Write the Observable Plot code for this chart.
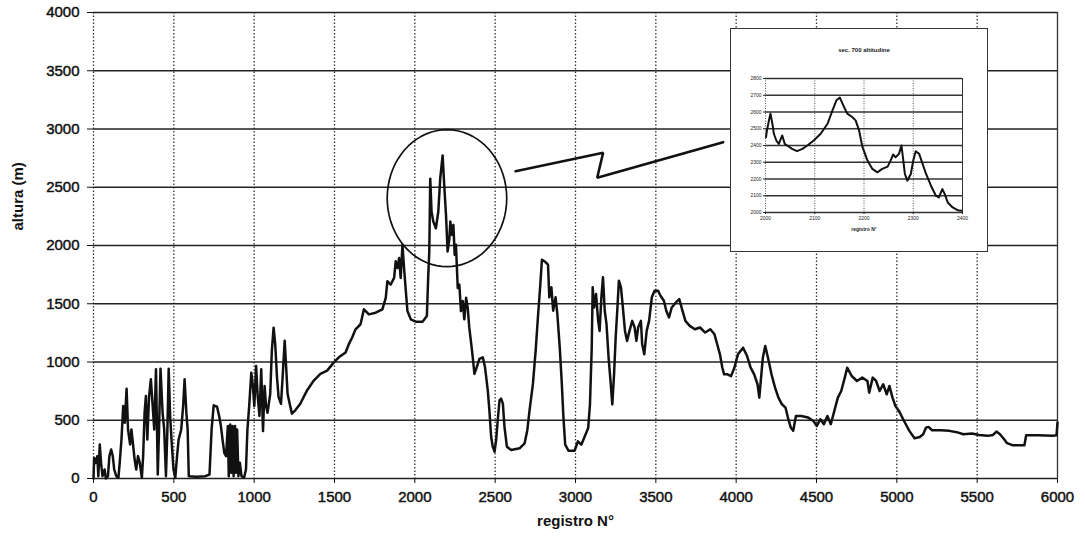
<!DOCTYPE html>
<html><head><meta charset="utf-8">
<script src="https://cdn.jsdelivr.net/npm/d3@7"></script>
<script src="https://cdn.jsdelivr.net/npm/@observablehq/plot@0.6"></script>
<style>
html,body{margin:0;padding:0;background:#fff;overflow:hidden;}
#wrap{position:relative;width:1085px;height:545px;overflow:hidden;}
#wrap svg{display:block;}
#main svg g[aria-label="x-axis tick label"] text,
#main svg g[aria-label="y-axis tick label"] text{stroke:#111;stroke-width:0.45px;}
#inset{position:absolute;left:730px;top:28px;width:256px;height:222px;border:1.4px solid #333;background:#fff;}
</style></head><body><div id="wrap"><div id="main"></div><div id="inset"></div></div>
<script>
// ---- main series: registro N° (x) and altura in m (y) ----
const registro = [0,4,15,24,30,39,47,56,69,77,90,99,110,120,129,142,155,163,174,185,195,206,215,228,236,245,256,266,277,288,301,309,318,326,335,346,357,367,378,389,400,408,417,430,440,451,460,468,477,488,498,509,520,530,546,558,567,578,586,593,640,696,722,735,748,769,782,793,803,814,825,836,842,851,857,866,872,881,887,894,902,911,921,937,949,958,969,982,992,1001,1012,1022,1033,1044,1055,1065,1074,1083,
1100,1110,1121,1131,1142,1152,1167,1177,1190,1198,1208,1221,1235,1256,1287,1329,1371,1412,1454,1496,1527,1569,1589,1610,1631,1662,1683,1714,1756,1798,1819,1829,1850,1871,1881,1892,1902,1912,1923,1933,1944,1954,1975,2006,2048,2075,2083,2090,2096,2104,2115,2131,2146,2158,2173,2183,2194,2204,2215,2221,2231,2240,2248,2256,2267,2277,2287,2298,2308,2319,2329,2339,2356,2371,2385,2402,2423,2437,2454,2464,2475,2485,2496,2506,2516,2527,2537,2548,2558,2573,2600,2652,2683,2700,2714,2735,2752,2766,2781,2791,2808,2829,
2837,2850,2861,2876,2887,2902,2914,2925,2936,2957,2994,3015,3036,3058,3079,3090,3101,3107,3116,3128,3141,3150,3161,3171,3182,3193,3206,3218,3229,3240,3250,3261,3270,3283,3293,3308,3321,3336,3353,3368,3379,3390,3407,3415,3428,3443,3458,3475,3492,3514,3529,3550,3565,3582,3599,3625,3646,3663,3684,3711,3743,3775,3807,3839,3865,3882,3899,3914,3925,3946,3968,3989,4011,4043,
4068,4090,4112,4133,4144,4166,4181,4198,4220,4242,4263,4285,4307,4322,4340,4355,4372,4405,4448,4481,4502,4524,4546,4568,4589,4611,4633,4654,4676,4691,4719,4752,4785,4817,4828,4850,4871,4893,4915,4937,4954,4973,4991,5013,5045,5078,5110,5143,5164,5182,5197,5219,5273,5327,5382,5414,5468,5512,5566,5599,5620,5642,5668,5686,5718,5794,5805,5881,5968,5994,6000];
const altura = [0,178,134,192,20,292,135,20,77,0,20,192,249,192,77,20,6,135,335,622,478,771,421,292,421,307,163,77,192,135,6,192,564,708,335,708,851,650,421,937,34,421,943,564,421,20,421,943,536,278,77,6,192,335,421,622,851,564,421,20,15,20,34,421,628,616,536,450,335,220,192,450,20,464,49,450,20,450,49,421,20,135,20,6,77,421,622,908,794,622,965,708,536,937,407,794,622,564,
727,1097,1295,1153,869,699,642,869,1182,983,727,642,557,585,642,756,841,898,926,997,1040,1082,1153,1210,1281,1324,1452,1409,1423,1452,1551,1693,1665,1722,1864,1807,1892,1722,2006,1807,1608,1437,1366,1346,1346,1395,1722,1949,2574,2290,2205,2148,2290,2574,2773,2517,2261,1949,2062,2205,2091,2176,1920,2006,1636,1665,1437,1523,1366,1551,1466,1295,1097,898,954,1026,1040,954,756,585,358,273,230,330,500,670,685,642,443,273,244,259,301,415,585,812,1097,1381,1665,1878,1864,1835,
1555,1641,1440,1555,1411,1123,836,520,290,238,238,319,290,362,434,635,1123,1641,1468,1583,1353,1267,1555,1727,1440,1325,1037,836,635,894,1210,1468,1698,1641,1497,1267,1181,1267,1353,1296,1181,1296,1353,1152,1066,1267,1353,1555,1612,1612,1569,1526,1440,1382,1468,1511,1540,1454,1353,1310,1281,1296,1253,1281,1238,1152,1066,951,894,894,879,951,1066,1123,
1051,951,894,809,694,1037,1137,1037,894,780,694,637,609,523,437,409,537,537,523,494,451,509,466,537,466,580,694,751,866,951,880,837,866,837,737,866,837,751,809,723,794,694,623,580,494,409,346,357,380,437,443,414,414,409,394,380,386,374,366,374,403,380,337,303,286,286,371,371,366,371,480];

const xTicks = [0,500,1000,1500,2000,2500,3000,3500,4000,4500,5000,5500,6000];
const yTicks = [0,500,1000,1500,2000,2500,3000,3500,4000];
const xLabel = "registro N°";
const yLabel = "altura (m)";

// annotations: circle round the peak (centre, radii in data units) and the zigzag pointer
const circleCenter = [2200, 2406];
const circleRadii = [372, 588];
const zigX = [2627, 3172, 3135, 3919];
const zigY = [2638, 2796, 2581, 2887];

// ---- inset series ----
const insetReg = [2001,2003,2007,2010,2014,2017,2022,2027,2034,2039,2044,2054,2064,2075,2085,2098,2112,2126,2136,2144,2151,2158,2166,2176,2183,2190,2197,2207,2217,2227,2237,2248,2254,2259,2264,2271,2276,2279,2283,2288,2295,2300,2305,2312,2319,2326,2336,2346,2352,2359,2364,2370,2380,2390,2398];
const insetAlt = [2450,2490,2550,2590,2530,2470,2430,2410,2460,2410,2400,2380,2366,2380,2400,2430,2470,2530,2610,2670,2686,2640,2590,2570,2550,2490,2390,2310,2260,2240,2260,2274,2310,2346,2330,2350,2400,2330,2230,2190,2230,2310,2366,2350,2290,2230,2160,2100,2090,2140,2110,2060,2030,2014,2010];
const insetXTicks = [2000,2100,2200,2300,2400];
const insetYTicks = [2000,2100,2200,2300,2400,2500,2600,2700,2800];
const insetTitle = "sec. 700 altitudine";

// ---- build ----
const mainData = registro.map((x, i) => ({x, y: altura[i]}));
const ellipse = d3.range(0, 361, 5).map(a => ({
  x: circleCenter[0] + circleRadii[0] * Math.cos(a * Math.PI / 180),
  y: circleCenter[1] + circleRadii[1] * Math.sin(a * Math.PI / 180)
}));
const zig = zigX.map((x, i) => ({x, y: zigY[i]}));

const main = Plot.plot({
  width: 1085, height: 545,
  marginLeft: 93, marginRight: 28, marginTop: 12, marginBottom: 67,
  style: {fontFamily: "'Liberation Sans', Arial, sans-serif", fontSize: "15px", color: "#111", background: "#fff"},
  x: {domain: [0, 6000], label: null},
  y: {domain: [0, 4000], label: null},
  marks: [
    Plot.ruleX(xTicks.slice(0, -1), {stroke: "#333", strokeWidth: 1.3, strokeDasharray: "1.5,2"}),
    Plot.ruleX([6000], {stroke: "#333", strokeWidth: 1.3}),
    Plot.ruleY(yTicks, {stroke: "#222", strokeWidth: 1.7}),
    Plot.axisX({ticks: xTicks, tickFormat: "d", tickSize: 5, tickPadding: 8, label: null, letterSpacing: 0.6}),
    Plot.axisY({ticks: yTicks, tickFormat: "d", tickSize: 6, tickPadding: 8, label: null, letterSpacing: 0.6}),
    Plot.line(mainData, {x: "x", y: "y", stroke: "#111", strokeWidth: 2.5, strokeLinejoin: "round"}),
    Plot.line(ellipse, {x: "x", y: "y", stroke: "#111", strokeWidth: 1.7}),
    Plot.line(zig, {x: "x", y: "y", stroke: "#111", strokeWidth: 2.6, strokeLinejoin: "miter"}),
    Plot.text([yLabel], {frameAnchor: "left", rotate: -90, dx: -75, dy: -15, fontWeight: "bold", fontSize: 15}),
    Plot.text([xLabel], {frameAnchor: "bottom", dy: 47, fontWeight: "bold", fontSize: 15})
  ]
});
document.getElementById("main").appendChild(main);

const insetData = insetReg.map((x, i) => ({x, y: insetAlt[i]}));
const inset = Plot.plot({
  width: 256, height: 222,
  marginLeft: 34, marginRight: 25, marginTop: 49, marginBottom: 39,
  style: {fontFamily: "'Liberation Sans', Arial, sans-serif", fontSize: "5px", color: "#222", background: "#fff"},
  x: {domain: [2000, 2400], label: null},
  y: {domain: [2000, 2800], label: null},
  marks: [
    Plot.ruleX(insetXTicks, {stroke: "#444", strokeWidth: 0.9, strokeDasharray: "1,1.5"}),
    Plot.ruleX([2400], {stroke: "#333", strokeWidth: 1}),
    Plot.ruleY(insetYTicks, {stroke: "#333", strokeWidth: 1.3}),
    Plot.axisX({ticks: insetXTicks, tickFormat: "d", tickSize: 2, tickPadding: 2, label: null, fontSize: 5}),
    Plot.axisY({ticks: insetYTicks, tickFormat: "d", tickSize: 2, tickPadding: 2, label: null, fontSize: 5}),
    Plot.line(insetData, {x: "x", y: "y", stroke: "#111", strokeWidth: 2}),
    Plot.text([insetTitle], {frameAnchor: "top", dy: -31, fontSize: 6, fontWeight: "bold"}),
    Plot.text([xLabel], {frameAnchor: "bottom", dy: 18, fontSize: 5, fontWeight: "bold"})
  ]
});
document.getElementById("inset").appendChild(inset);
</script>
</body></html>
